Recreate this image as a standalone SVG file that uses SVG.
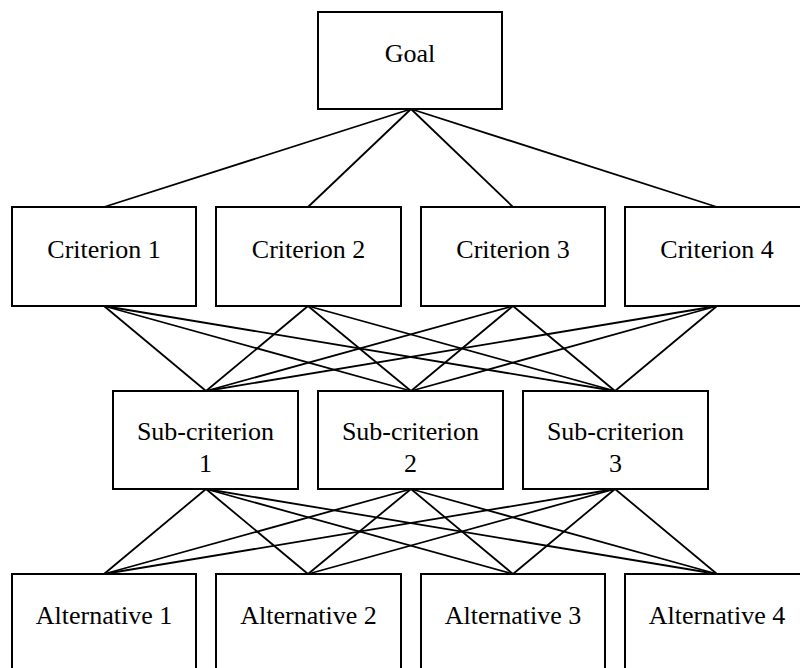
<svg xmlns="http://www.w3.org/2000/svg" width="800" height="668" viewBox="0 0 800 668">
<style>
rect{fill:#fff;stroke:#000;stroke-width:2}
text{font-family:"Liberation Serif","Times New Roman",serif;font-size:26px;fill:#000;text-anchor:middle}
#connectors line{stroke:#000;stroke-width:1.8}
</style>
<rect x="0" y="0" width="800" height="668" style="stroke:none"/>
<g id="connectors">
<line x1="411" y1="109" x2="104" y2="207"/>
<line x1="411" y1="109" x2="308" y2="207"/>
<line x1="411" y1="109" x2="513" y2="207"/>
<line x1="411" y1="109" x2="717" y2="207"/>
<line x1="104" y1="306" x2="206" y2="391"/>
<line x1="104" y1="306" x2="411" y2="391"/>
<line x1="104" y1="306" x2="615" y2="391"/>
<line x1="308" y1="306" x2="206" y2="391"/>
<line x1="308" y1="306" x2="411" y2="391"/>
<line x1="308" y1="306" x2="615" y2="391"/>
<line x1="513" y1="306" x2="206" y2="391"/>
<line x1="513" y1="306" x2="411" y2="391"/>
<line x1="513" y1="306" x2="615" y2="391"/>
<line x1="717" y1="306" x2="206" y2="391"/>
<line x1="717" y1="306" x2="411" y2="391"/>
<line x1="717" y1="306" x2="615" y2="391"/>
<line x1="206" y1="489" x2="104" y2="574"/>
<line x1="206" y1="489" x2="308" y2="574"/>
<line x1="206" y1="489" x2="513" y2="574"/>
<line x1="206" y1="489" x2="717" y2="574"/>
<line x1="411" y1="489" x2="104" y2="574"/>
<line x1="411" y1="489" x2="308" y2="574"/>
<line x1="411" y1="489" x2="513" y2="574"/>
<line x1="411" y1="489" x2="717" y2="574"/>
<line x1="615" y1="489" x2="104" y2="574"/>
<line x1="615" y1="489" x2="308" y2="574"/>
<line x1="615" y1="489" x2="513" y2="574"/>
<line x1="615" y1="489" x2="717" y2="574"/>
</g>
<g id="goal"><rect x="318" y="12" width="184" height="97"/><text x="410" y="62">Goal</text></g>
<g id="criterion1"><rect x="12" y="207" width="184" height="99"/><text x="104" y="258">Criterion 1</text></g>
<g id="criterion2"><rect x="216" y="207" width="185" height="99"/><text x="308.5" y="258">Criterion 2</text></g>
<g id="criterion3"><rect x="421" y="207" width="184" height="99"/><text x="513" y="258">Criterion 3</text></g>
<g id="criterion4"><rect x="625" y="207" width="184" height="99"/><text x="717" y="258">Criterion 4</text></g>
<g id="sub1"><rect x="113" y="391" width="185" height="98"/><text x="205.5" y="440">Sub-criterion</text><text x="205.5" y="472">1</text></g>
<g id="sub2"><rect x="318" y="391" width="185" height="98"/><text x="410.5" y="440">Sub-criterion</text><text x="410.5" y="472">2</text></g>
<g id="sub3"><rect x="523" y="391" width="185" height="98"/><text x="615.5" y="440">Sub-criterion</text><text x="615.5" y="472">3</text></g>
<g id="alt1"><rect x="12" y="574" width="184" height="100"/><text x="104" y="624">Alternative 1</text></g>
<g id="alt2"><rect x="216" y="574" width="185" height="100"/><text x="308.5" y="624">Alternative 2</text></g>
<g id="alt3"><rect x="421" y="574" width="184" height="100"/><text x="513" y="624">Alternative 3</text></g>
<g id="alt4"><rect x="625" y="574" width="184" height="100"/><text x="717" y="624">Alternative 4</text></g>
</svg>
